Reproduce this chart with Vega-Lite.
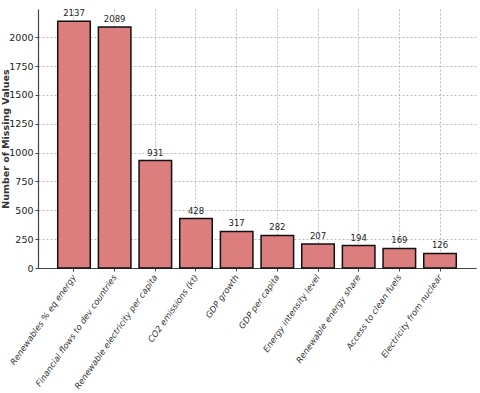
{
  "$schema": "https://vega.github.io/schema/vega-lite/v6.json",
  "autosize": "none",
  "padding": {"left": 38, "top": 9, "right": 4, "bottom": 125},
  "width": 438,
  "height": 259,
  "background": "white",
  "config": {"view": {"stroke": null}, "font": "DejaVu Sans"},
  "data": {"values": [
    {"feature": "Renewables % eq energy", "missing": 2137},
    {"feature": "Financial flows to dev countries", "missing": 2089},
    {"feature": "Renewable electricity per capita", "missing": 931},
    {"feature": "CO2 emissions (kt)", "missing": 428},
    {"feature": "GDP growth", "missing": 317},
    {"feature": "GDP per capita", "missing": 282},
    {"feature": "Energy intensity level", "missing": 207},
    {"feature": "Renewable energy share", "missing": 194},
    {"feature": "Access to clean fuels", "missing": 169},
    {"feature": "Electricity from nuclear", "missing": 126}
  ]},
  "encoding": {
    "x": {
      "field": "feature", "type": "nominal", "sort": null,
      "scale": {"paddingInner": 0.2, "paddingOuter": 0.485},
      "axis": {
        "title": null, "labelAngle": -55, "labelAlign": "right", "labelBaseline": "middle",
        "labelFontSize": 8.5, "labelFontStyle": "italic", "labelColor": "#333",
        "labelPadding": 4, "labelLimit": 300,
        "grid": true, "gridDash": [2, 2], "gridColor": "#aaaaaa", "gridWidth": 0.8,
        "domainColor": "#444", "domainWidth": 1.2, "tickColor": "#444", "tickSize": 3, "bandPosition": 0.5
      }
    },
    "y": {
      "field": "missing", "type": "quantitative",
      "scale": {"domain": [0, 2244], "nice": false},
      "axis": {
        "title": "Number of Missing Values", "titleFontSize": 9.5, "titleFontWeight": "bold",
        "titleColor": "#333", "titleX": -33, "titleBaseline": "middle", "titleAngle": -90,
        "values": [0, 250, 500, 750, 1000, 1250, 1500, 1750, 2000], "format": "d",
        "labelFontSize": 9.5, "labelColor": "#222", "labelPadding": 2,
        "grid": true, "gridDash": [2, 2], "gridColor": "#aaaaaa", "gridWidth": 0.8,
        "domainColor": "#444", "domainWidth": 1.2, "tickColor": "#444", "tickSize": 3
      }
    }
  },
  "layer": [
    {"mark": {"type": "bar", "color": "#dc7e7e", "stroke": "#111", "strokeWidth": 1.5}},
    {"mark": {"type": "text", "dy": -8, "fontSize": 8.5, "color": "#222"},
     "encoding": {"text": {"field": "missing", "type": "quantitative"}}}
  ]
}
